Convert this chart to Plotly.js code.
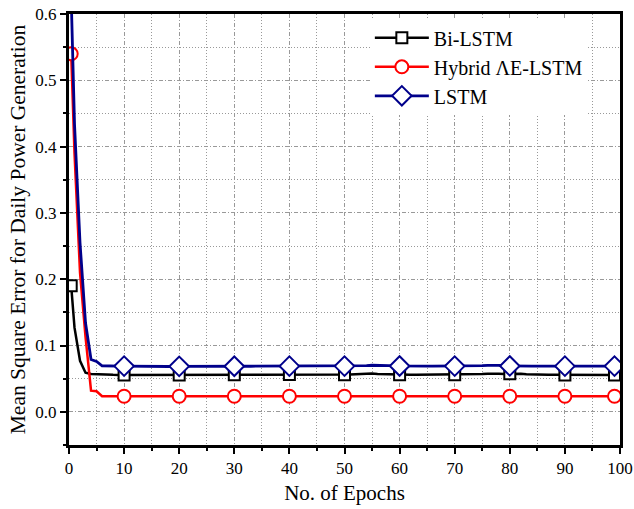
<!DOCTYPE html>
<html>
<head>
<meta charset="utf-8">
<script src="https://cdn.plot.ly/plotly-3.0.1.min.js"></script>
<style>html,body{margin:0;padding:0;background:#fff;}#chart{width:634px;height:509px;}</style>
</head>
<body>
<div id="chart"></div>
<script>
const seriesNames = ['Bi-LSTM', 'Hybrid ΛE-LSTM', 'LSTM'];

const epochs = [
  0.4, 1, 2, 3, 4, 5, 6, 7, 8, 9,
  10, 11, 12, 13, 14, 15, 16, 17, 18, 19,
  20, 21, 22, 23, 24, 25, 26, 27, 28, 29,
  30, 31, 32, 33, 34, 35, 36, 37, 38, 39,
  40, 41, 42, 43, 44, 45, 46, 47, 48, 49,
  50, 51, 52, 53, 54, 55, 56, 57, 58, 59,
  60, 61, 62, 63, 64, 65, 66, 67, 68, 69,
  70, 71, 72, 73, 74, 75, 76, 77, 78, 79,
  80, 81, 82, 83, 84, 85, 86, 87, 88, 89,
  90, 91, 92, 93, 94, 95, 96, 97, 98, 99
];

const biLSTM = [
  0.190, 0.127, 0.077, 0.059, 0.0572, 0.0566, 0.0562, 0.0560, 0.0558, 0.0557,
  0.0557, 0.0556, 0.0556, 0.0555, 0.0555, 0.0556, 0.0556, 0.0557, 0.0557, 0.0557,
  0.0557, 0.0557, 0.0557, 0.0557, 0.0557, 0.0558, 0.0558, 0.0558, 0.0558, 0.0558,
  0.0558, 0.0558, 0.0558, 0.0558, 0.0559, 0.0560, 0.0562, 0.0562, 0.0562, 0.0562,
  0.0562, 0.0561, 0.0560, 0.0560, 0.0559, 0.0559, 0.0558, 0.0558, 0.0558, 0.0558,
  0.0558, 0.0562, 0.0568, 0.0575, 0.0580, 0.0578, 0.0572, 0.0568, 0.0565, 0.0562,
  0.0560, 0.0560, 0.0559, 0.0559, 0.0559, 0.0559, 0.0559, 0.0560, 0.0560, 0.0560,
  0.0560, 0.0560, 0.0561, 0.0562, 0.0566, 0.0570, 0.0575, 0.0578, 0.0574, 0.0570,
  0.0574, 0.0580, 0.0574, 0.0566, 0.0562, 0.0560, 0.0559, 0.0558, 0.0558, 0.0558,
  0.0557, 0.0557, 0.0557, 0.0557, 0.0557, 0.0557, 0.0557, 0.0557, 0.0557, 0.0557
];

const hybridAELSTM = [
  0.540, 0.390, 0.210, 0.113, 0.032, 0.031, 0.0236, 0.0235, 0.0235, 0.0235,
  0.0235, 0.0235, 0.0235, 0.0235, 0.0235, 0.0235, 0.0235, 0.0235, 0.0235, 0.0235,
  0.0235, 0.0235, 0.0235, 0.0235, 0.0235, 0.0235, 0.0235, 0.0235, 0.0235, 0.0235,
  0.0235, 0.0235, 0.0235, 0.0235, 0.0235, 0.0235, 0.0235, 0.0235, 0.0235, 0.0235,
  0.0235, 0.0235, 0.0235, 0.0235, 0.0235, 0.0235, 0.0235, 0.0235, 0.0235, 0.0235,
  0.0235, 0.0235, 0.0235, 0.0236, 0.0236, 0.0236, 0.0235, 0.0235, 0.0235, 0.0235,
  0.0235, 0.0235, 0.0235, 0.0235, 0.0235, 0.0235, 0.0235, 0.0235, 0.0235, 0.0235,
  0.0235, 0.0235, 0.0235, 0.0235, 0.0235, 0.0235, 0.0236, 0.0236, 0.0235, 0.0235,
  0.0235, 0.0235, 0.0235, 0.0235, 0.0235, 0.0235, 0.0235, 0.0235, 0.0235, 0.0235,
  0.0235, 0.0235, 0.0235, 0.0235, 0.0235, 0.0235, 0.0235, 0.0235, 0.0235, 0.0235
];

const lstm = [
  0.625, 0.434, 0.255, 0.134, 0.079, 0.076, 0.0695, 0.0690, 0.0690, 0.0690,
  0.0690, 0.0688, 0.0686, 0.0684, 0.0683, 0.0683, 0.0683, 0.0683, 0.0684, 0.0685,
  0.0686, 0.0687, 0.0687, 0.0687, 0.0687, 0.0687, 0.0687, 0.0687, 0.0687, 0.0687,
  0.0688, 0.0688, 0.0688, 0.0688, 0.0688, 0.0688, 0.0688, 0.0688, 0.0688, 0.0688,
  0.0689, 0.0689, 0.0689, 0.0689, 0.0689, 0.0689, 0.0689, 0.0689, 0.0689, 0.0689,
  0.0690, 0.0690, 0.0690, 0.0692, 0.0697, 0.0703, 0.0704, 0.0700, 0.0696, 0.0693,
  0.0691, 0.0690, 0.0690, 0.0690, 0.0690, 0.0690, 0.0690, 0.0690, 0.0690, 0.0690,
  0.0690, 0.0690, 0.0690, 0.0690, 0.0692, 0.0696, 0.0702, 0.0705, 0.0701, 0.0695,
  0.0692, 0.0690, 0.0690, 0.0690, 0.0690, 0.0690, 0.0690, 0.0690, 0.0690, 0.0690,
  0.0689, 0.0688, 0.0687, 0.0686, 0.0686, 0.0687, 0.0688, 0.0689, 0.0690, 0.0690
];

const markedEpochs = [0.4, 10, 20, 30, 40, 50, 60, 70, 80, 90, 99];
const xTickVals = [0, 10, 20, 30, 40, 50, 60, 70, 80, 90, 100];
const yTickVals = [0.0, 0.1, 0.2, 0.3, 0.4, 0.5, 0.6];

const markedIdx = epochs.map((e, i) => markedEpochs.includes(e) ? i : -1).filter(i => i >= 0);

const FONT = 'Liberation Serif, Times New Roman, serif';

function mkTrace(y, name, color, symbol, size, lw) {
  return {
    x: epochs, y: y, name: name, mode: 'lines+markers',
    line: { color: color, width: lw },
    marker: { symbol: symbol, size: size, color: '#ffffff', opacity: 1, line: { color: color, width: 2 } },
    selectedpoints: markedIdx,
    selected: { marker: { opacity: 1 } },
    unselected: { marker: { opacity: 0 } }
  };
}

const traces = [
  mkTrace(biLSTM, seriesNames[0], '#000000', 'square', 11, 2.5),
  mkTrace(hybridAELSTM, seriesNames[1], '#ff0000', 'circle', 13, 2.5),
  mkTrace(lstm, seriesNames[2], '#00008b', 'diamond', 15, 2.8)
];

const layout = {
  width: 634, height: 509,
  margin: { l: 69, r: 14, t: 14, b: 64 },
  paper_bgcolor: '#ffffff', plot_bgcolor: '#ffffff',
  font: { family: FONT, color: '#000000', size: 17 },
  showlegend: true,
  legend: {
    x: 0.546, y: 0.99, xanchor: 'left', yanchor: 'top',
    bgcolor: '#ffffff', borderwidth: 0,
    font: { family: FONT, size: 20, color: '#000000' },
    itemsizing: 'trace', itemwidth: 54, tracegroupgap: 0
  },
  xaxis: {
    range: [0, 100], tickvals: xTickVals, ticktext: xTickVals.map(String),
    ticks: 'outside', ticklen: 6, tickwidth: 2, tickcolor: '#000',
    showline: true, linewidth: 3, linecolor: '#000', mirror: true,
    zeroline: false, showgrid: true, griddash: '3px,6px', gridcolor: '#999999', gridwidth: 1,
    minor: { dtick: 5, ticks: 'outside', ticklen: 3, tickwidth: 2, tickcolor: '#000',
             showgrid: true, griddash: '1px,2px', gridcolor: '#999999', gridwidth: 1 },
    title: { text: 'No. of Epochs', font: { family: FONT, size: 21 }, standoff: 8 },
    tickfont: { family: FONT, size: 17 }
  },
  yaxis: {
    range: [-0.05, 0.6], tickvals: yTickVals, ticktext: yTickVals.map(v => v.toFixed(1)),
    ticks: 'outside', ticklen: 6, tickwidth: 2, tickcolor: '#000',
    showline: true, linewidth: 3, linecolor: '#000', mirror: true,
    zeroline: false, showgrid: true, griddash: '3px,6px', gridcolor: '#999999', gridwidth: 1,
    minor: { dtick: 0.05, tick0: 0, ticks: 'outside', ticklen: 3, tickwidth: 2, tickcolor: '#000',
             showgrid: true, griddash: '1px,2px', gridcolor: '#999999', gridwidth: 1 },
    title: { text: 'Mean Square Error for Daily Power Generation', font: { family: FONT, size: 21.5 }, standoff: 4 },
    tickfont: { family: FONT, size: 17 }
  }
};

Plotly.newPlot('chart', traces, layout, { displayModeBar: false, staticPlot: true });
</script>
</body>
</html>
